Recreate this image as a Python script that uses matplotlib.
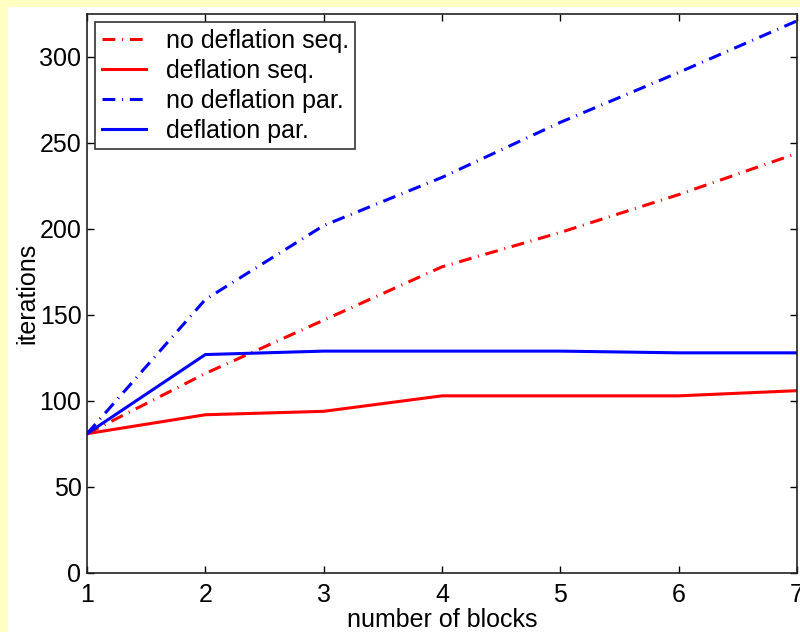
import matplotlib
matplotlib.use("Agg")
import matplotlib.pyplot as plt
from matplotlib.patches import Rectangle

blocks = [1, 2, 3, 4, 5, 6, 7]
nodefl_seq = [81, 116, 147, 178, 198, 220, 244]
defl_seq = [81, 92, 94, 103, 103, 103, 106]
nodefl_par = [81, 159, 202, 230, 262, 291, 321]
defl_par = [81, 127, 129, 129, 129, 128, 128]

plt.rcParams['font.family'] = ['Liberation Sans', 'DejaVu Sans']

fig = plt.figure(figsize=(8, 6.32), dpi=100, facecolor='#ffffc4')
fig.add_artist(Rectangle((8 / 800, 0), 1, 1 - 7 / 632, transform=fig.transFigure,
                         facecolor='white', edgecolor='none', zorder=-10))

ax = fig.add_axes([87 / 800, 1 - 573 / 632, 710 / 800, 559 / 632])
ax.set_zorder(1)
lw = 2.2
dd = (4.2, 2.2, 0.35, 2.2)
ax.plot(blocks, nodefl_seq, color='#ff0000', lw=lw, dashes=dd, label='no deflation seq.')
ax.plot(blocks, defl_seq, color='#ff0000', lw=lw, label='deflation seq.')
ax.plot(blocks, nodefl_par, color='#0000ff', lw=lw, dashes=dd, label='no deflation par.')
ax.plot(blocks, defl_par, color='#0000ff', lw=lw, label='deflation par.')

ax.set_xlim(1, 7)
ax.set_ylim(0, 325)
ax.set_xticks(blocks)
ax.set_yticks(range(0, 301, 50))
ax.tick_params(direction='in', length=5, width=1, top=True, right=True,
               labelsize=18, colors='black')
ax.tick_params(axis='x', pad=7)
ax.tick_params(axis='y', pad=4)
for s in ax.spines.values():
    s.set_linewidth(1.2)
    s.set_color('#222222')

ax.set_xlabel('number of blocks', fontsize=18, labelpad=1)
ax.set_ylabel('iterations', fontsize=18, labelpad=0)

leg = ax.legend(loc='upper left', bbox_to_anchor=(8 / 710, 1 - 8 / 559), fontsize=18,
                frameon=True, fancybox=False, borderaxespad=0, handlelength=1.75,
                handletextpad=0.8, labelspacing=0.24, borderpad=0.27)
leg.get_frame().set_edgecolor('black')
leg.get_frame().set_linewidth(1.2)

fig.savefig('out.png', dpi=100, facecolor=fig.get_facecolor())
